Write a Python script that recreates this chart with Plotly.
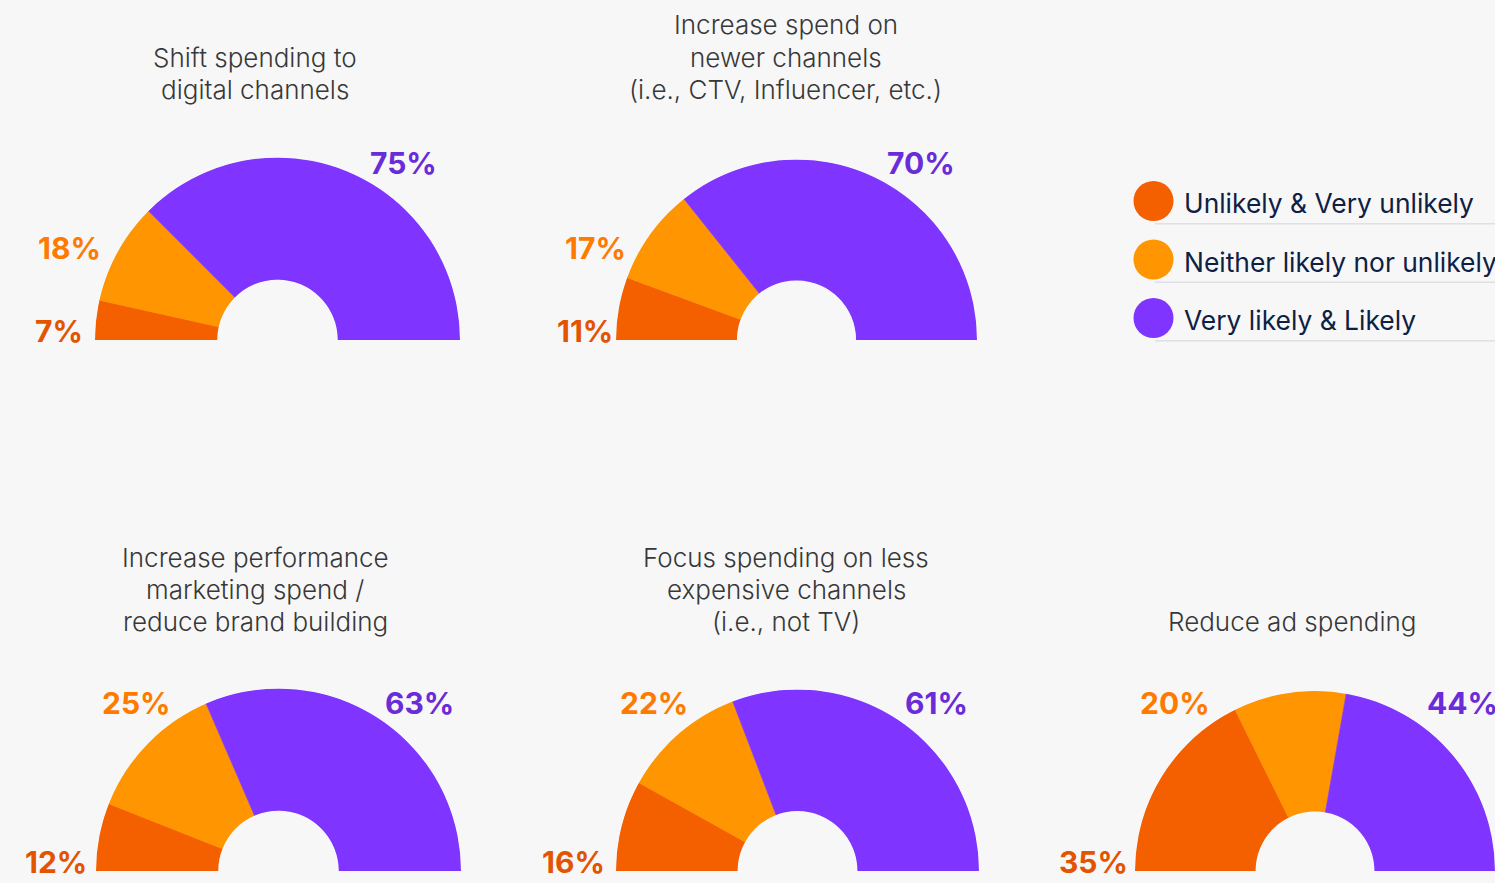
import plotly.graph_objects as go

# ---------------- data ----------------
categories = ["Unlikely & Very unlikely", "Neither likely nor unlikely", "Very likely & Likely"]
chart_titles = [
    "Shift spending to<br>digital channels",
    "Increase spend on<br>newer channels<br>(i.e., CTV, Influencer, etc.)",
    "Increase performance<br>marketing spend /<br>reduce brand building",
    "Focus spending on less<br>expensive channels<br>(i.e., not TV)",
    "Reduce ad spending",
]
unlikely = [7, 11, 12, 16, 35]
neither = [18, 17, 25, 22, 20]
likely = [75, 70, 63, 61, 44]

# ---------------- style / layout ----------------
W, H = 1495, 883
SLICE_COLORS = ["#F45F00", "#FF9500", "#7F35FF"]
LABEL_COLORS = ["#E35400", "#FF7A00", "#6A2BD9"]
BG = "#F7F7F8"
FONT = "Inter"
TITLE_FONT = "Inter Light, Inter"

# half-donut centre (px) and radius (px)
CENTERS = [(277.5, 340, 182.5), (796.5, 340, 180.5), (278.5, 871, 182.5),
           (797.5, 871, 181.5), (1315, 871, 180)]
HOLE = 0.33
# title: centre x, centre y of its last line (px)
TITLE_POS = [(255, 89), (785.5, 89), (255, 621), (786, 621), (1291.5, 621)]
TITLE_LINE_H = 32
LABEL_OFFSETS = [
    [(-219, -9), (-208, -92), (126, -177)],
    [(-212, -9), (-201, -92), (124, -177)],
    [(-223, -9), (-142, -168), (141, -168)],
    [(-224, -9), (-144, -168), (139, -168)],
    [(-222, -9), (-140, -168), (147, -168)],
]


def px(x):
    return x / W


def py(y):
    return 1 - y / H


fig = go.Figure()
layout = dict(
    width=W, height=H, margin=dict(l=0, r=0, t=0, b=0),
    paper_bgcolor=BG, plot_bgcolor=BG, showlegend=False,
    font=dict(family=FONT),
)
annotations = []
shapes = []

for i in range(len(chart_titles)):
    vals = [unlikely[i], neither[i], likely[i]]
    total = sum(vals)
    thetas, widths = [], []
    cum = 0
    for v in vals:
        thetas.append((cum + v / 2) / total * 180)
        widths.append(v / total * 180)
        cum += v
    pname = "polar" if i == 0 else f"polar{i+1}"
    fig.add_trace(go.Barpolar(
        r=[1, 1, 1], theta=thetas, width=widths,
        marker=dict(color=SLICE_COLORS, line=dict(color=SLICE_COLORS, width=0.6)),
        subplot=pname, hoverinfo="skip", showlegend=False,
    ))
    cx, cy, R = CENTERS[i]
    layout[pname] = dict(
        domain=dict(x=[max(0, px(cx - R)), min(1, px(cx + R))], y=[py(cy), py(cy - R)]),
        sector=[0, 180], hole=HOLE, bgcolor="rgba(0,0,0,0)",
        radialaxis=dict(visible=False, range=[0, 1]),
        angularaxis=dict(visible=False, rotation=180, direction="clockwise"),
    )
    tx, ty = TITLE_POS[i]
    lines = chart_titles[i].split("<br>")
    for j, line in enumerate(lines):
        ly = ty - (len(lines) - 1 - j) * TITLE_LINE_H
        annotations.append(dict(
            x=px(tx), y=py(ly), xref="paper", yref="paper", xanchor="center", yanchor="middle",
            text=line, showarrow=False, align="center",
            font=dict(family=TITLE_FONT, size=26, color="#383838", weight=300),
        ))
    for k, v in enumerate(vals):
        dx, dy = LABEL_OFFSETS[i][k]
        annotations.append(dict(
            x=px(cx + dx), y=py(cy + dy), xref="paper", yref="paper",
            xanchor="center", yanchor="middle", text=f"{v}%", showarrow=False,
            font=dict(family=FONT, size=30, color=LABEL_COLORS[k], weight=700),
        ))

# ---------------- legend (custom) ----------------
leg_idx = list(range(len(categories)))
fig.add_trace(go.Scatter(
    x=[0] * len(categories), y=leg_idx, mode="markers",
    marker=dict(size=40, color=SLICE_COLORS), hoverinfo="skip",
    showlegend=False, xaxis="x", yaxis="y", cliponaxis=False,
))
layout["xaxis"] = dict(domain=[px(1134), 1], range=[-19.5, 341.5], visible=False, fixedrange=True)
layout["yaxis"] = dict(domain=[py(347.25), py(171.75)], range=[2.5, -0.5], visible=False, fixedrange=True)
for k, name in enumerate(categories):
    annotations.append(dict(
        x=0, y=k, xref="x", yref="y", xanchor="left", yanchor="middle", xshift=28, yshift=-2,
        text=name, showarrow=False,
        font=dict(family=FONT, size=26.4, color="#0E2043"),
    ))
    shapes.append(dict(
        type="line", xref="paper", yref="y", x0=px(1155), x1=1.01, y0=k + 0.39, y1=k + 0.39,
        line=dict(color="#DEE0E6", width=1.5),
    ))

layout["annotations"] = annotations
layout["shapes"] = shapes
fig.update_layout(**layout)
fig.write_html(
    "out.html",
    config={"displayModeBar": False},
    post_script="document.body.style.margin='0';document.body.style.overflow='hidden';"
                "document.body.style.background='#F7F7F8';",
)
